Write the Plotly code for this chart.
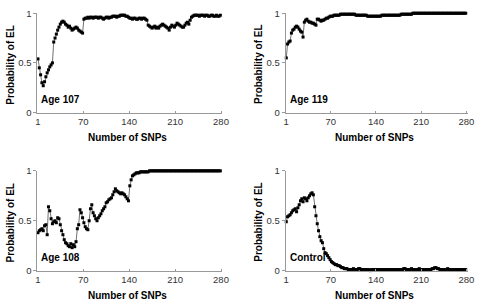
import plotly.graph_objects as go

# SNP index (every second SNP)
snps = list(range(1, 280, 2))

age107 = [0.54, 0.45, 0.38, 0.30, 0.27, 0.31, 0.36, 0.40, 0.43, 0.46,
          0.48, 0.50, 0.71, 0.75, 0.79, 0.83, 0.86, 0.89, 0.91, 0.92,
          0.91, 0.89, 0.88, 0.86, 0.87, 0.85, 0.83, 0.84, 0.85, 0.86,
          0.85, 0.83, 0.82, 0.81, 0.80, 0.94, 0.95, 0.95, 0.96, 0.95,
          0.96, 0.96, 0.95, 0.96, 0.96, 0.96, 0.95, 0.96, 0.96, 0.95,
          0.94, 0.95, 0.96, 0.96, 0.95, 0.96, 0.96, 0.97, 0.97, 0.97,
          0.96, 0.97, 0.97, 0.98, 0.98, 0.98, 0.98, 0.97, 0.97, 0.96,
          0.95, 0.95, 0.94, 0.95, 0.95, 0.94, 0.94, 0.95, 0.95, 0.94,
          0.95, 0.95, 0.94, 0.93, 0.88, 0.87, 0.86, 0.85, 0.86, 0.87,
          0.85, 0.86, 0.85, 0.87, 0.88, 0.89, 0.88, 0.87, 0.86, 0.85,
          0.83, 0.86, 0.88, 0.87, 0.86, 0.88, 0.90, 0.89, 0.88, 0.87,
          0.86, 0.86, 0.88, 0.90, 0.91, 0.89, 0.93, 0.96, 0.97, 0.98,
          0.98, 0.98, 0.98, 0.97, 0.98, 0.98, 0.98, 0.97, 0.98, 0.98,
          0.97, 0.97, 0.98, 0.98, 0.97, 0.97, 0.98, 0.97, 0.97, 0.98]

age119 = [0.55, 0.69, 0.71, 0.72, 0.80, 0.83, 0.84, 0.86, 0.87, 0.86,
          0.84, 0.82, 0.81, 0.76, 0.91, 0.93, 0.94, 0.92, 0.91, 0.91,
          0.90, 0.90, 0.89, 0.88, 0.94, 0.94, 0.93, 0.92, 0.93, 0.93,
          0.94, 0.95, 0.95, 0.96, 0.97, 0.97, 0.97, 0.98, 0.98, 0.98,
          0.98, 0.98, 0.99, 0.99, 0.99, 0.99, 0.99, 0.99, 0.99, 0.99,
          0.99, 0.99, 0.99, 0.99, 0.98, 0.98, 0.98, 0.98, 0.98, 0.98,
          0.98, 0.98, 0.98, 0.97, 0.97, 0.97, 0.97, 0.97, 0.97, 0.97,
          0.97, 0.97, 0.97, 0.97, 0.98, 0.98, 0.98, 0.98, 0.98, 0.98,
          0.98, 0.98, 0.98, 0.98, 0.98, 0.98, 0.98, 0.98, 0.98, 0.99,
          0.99, 0.99, 0.99, 0.99, 0.99, 0.99, 0.99, 0.99, 1.00, 1.00,
          1.00, 1.00, 1.00, 1.00, 1.00, 1.00, 1.00, 1.00, 1.00, 1.00,
          1.00, 1.00, 1.00, 1.00, 1.00, 1.00, 1.00, 1.00, 1.00, 1.00,
          1.00, 1.00, 1.00, 1.00, 1.00, 1.00, 1.00, 1.00, 1.00, 1.00,
          1.00, 1.00, 1.00, 1.00, 1.00, 1.00, 1.00, 1.00, 1.00, 1.00]

age108 = [0.38, 0.40, 0.41, 0.42, 0.40, 0.45, 0.46, 0.36, 0.64, 0.60,
          0.52, 0.47, 0.49, 0.50, 0.48, 0.53, 0.52, 0.46, 0.40, 0.36,
          0.31, 0.28, 0.27, 0.25, 0.24, 0.27, 0.23, 0.26, 0.24, 0.29,
          0.42, 0.46, 0.61, 0.58, 0.53, 0.48, 0.44, 0.42, 0.41, 0.50,
          0.62, 0.66, 0.58, 0.55, 0.52, 0.50, 0.53, 0.55, 0.57, 0.60,
          0.62, 0.64, 0.68, 0.69, 0.71, 0.72, 0.73, 0.76, 0.79, 0.82,
          0.80, 0.79, 0.78, 0.77, 0.78, 0.77, 0.76, 0.74, 0.72, 0.70,
          0.85, 0.91, 0.95, 0.96, 0.97, 0.98, 0.98, 0.98, 0.99, 0.99,
          0.99, 0.99, 0.99, 0.99, 0.99, 1.00, 1.00, 1.00, 1.00, 1.00,
          1.00, 1.00, 1.00, 1.00, 1.00, 1.00, 1.00, 1.00, 1.00, 1.00,
          1.00, 1.00, 1.00, 1.00, 1.00, 1.00, 1.00, 1.00, 1.00, 1.00,
          1.00, 1.00, 1.00, 1.00, 1.00, 1.00, 1.00, 1.00, 1.00, 1.00,
          1.00, 1.00, 1.00, 1.00, 1.00, 1.00, 1.00, 1.00, 1.00, 1.00,
          1.00, 1.00, 1.00, 1.00, 1.00, 1.00, 1.00, 1.00, 1.00, 1.00]

control = [0.49, 0.54, 0.55, 0.56, 0.58, 0.60, 0.61, 0.62, 0.59, 0.63,
           0.66, 0.70, 0.72, 0.69, 0.73, 0.72, 0.70, 0.73, 0.75, 0.77,
           0.78, 0.76, 0.64, 0.55, 0.47, 0.40, 0.34, 0.30, 0.28, 0.22,
           0.18, 0.17, 0.15, 0.13, 0.11, 0.09, 0.08, 0.07, 0.06, 0.06,
           0.05, 0.05, 0.04, 0.03, 0.03, 0.02, 0.02, 0.02, 0.01, 0.01,
           0.01, 0.01, 0.02, 0.01, 0.01, 0.01, 0.02, 0.02, 0.01, 0.01,
           0.01, 0.01, 0.01, 0.01, 0.01, 0.00, 0.01, 0.01, 0.01, 0.01,
           0.01, 0.01, 0.01, 0.01, 0.01, 0.01, 0.01, 0.01, 0.01, 0.01,
           0.01, 0.01, 0.01, 0.01, 0.01, 0.01, 0.01, 0.01, 0.01, 0.01,
           0.01, 0.02, 0.02, 0.01, 0.01, 0.01, 0.01, 0.02, 0.01, 0.01,
           0.01, 0.01, 0.01, 0.02, 0.01, 0.01, 0.01, 0.01, 0.01, 0.01,
           0.01, 0.01, 0.01, 0.02, 0.02, 0.03, 0.03, 0.02, 0.02, 0.01,
           0.01, 0.01, 0.01, 0.01, 0.01, 0.02, 0.01, 0.01, 0.01, 0.01,
           0.01, 0.01, 0.01, 0.01, 0.01, 0.01, 0.01, 0.01, 0.01, 0.01]

panel_labels = ["Age 107", "Age 119", "Age 108", "Control"]
series = [age107, age119, age108, control]
x_ticks = [1, 70, 140, 210, 280]
y_ticks = [0, 0.5, 1]
y_tick_text = ["0", "0.5", "1"]
x_title = "Number of SNPs"
y_title = "Probability of EL"

W, H = 483, 306
FONT = "Liberation Sans, Arial, sans-serif"

# pixel boxes of plot areas: (left, right, top, bottom)
boxes = [(36, 224.5, 7.5, 110.5),
         (289, 474.5, 7.5, 110.5),
         (36, 224.5, 171, 274.5),
         (289, 474.5, 171, 274.5)]

fig = go.Figure()
annotations = []
for i, (vals, lab, box) in enumerate(zip(series, panel_labels, boxes)):
    n = "" if i == 0 else str(i + 1)
    fig.add_trace(go.Scatter(
        x=snps, y=vals, mode="lines+markers",
        xaxis="x" + n, yaxis="y" + n,
        line=dict(color="#333333", width=0.7),
        marker=dict(color="black", size=3, symbol="square"),
        cliponaxis=False, showlegend=False, hoverinfo="skip"))
    l, r, t, b = box
    fig.layout["xaxis" + n] = dict(
        domain=[l / W, r / W], range=[0, 282], anchor="y" + n,
        tickvals=x_ticks, ticks="inside", ticklen=2, tickcolor="#999999",
        showline=True, linecolor="#999999", linewidth=1,
        showgrid=False, zeroline=False,
        tickfont=dict(family=FONT, size=9.5, color="#333333"))
    fig.layout["yaxis" + n] = dict(
        domain=[1 - b / H, 1 - t / H], range=[0, 1], anchor="x" + n,
        tickvals=y_ticks, ticktext=y_tick_text, ticks="outside", ticklen=3,
        tickcolor="#999999", showline=True, linecolor="#999999", linewidth=1,
        showgrid=False, zeroline=False,
        tickfont=dict(family=FONT, size=9.5, color="#333333"))
    annotations.append(dict(
        text=lab, xref="x" + n, yref="y" + n, x=3, y=0.13,
        xanchor="left", yanchor="middle", showarrow=False,
        font=dict(family=FONT, size=10, color="black", weight="bold")))
    annotations.append(dict(
        text=x_title, xref="paper", yref="paper",
        x=((l + r) / 2 - 2) / W, y=1 - (b + 25.5) / H,
        xanchor="center", yanchor="middle", showarrow=False,
        font=dict(family=FONT, size=10, color="black", weight="bold")))
    annotations.append(dict(
        text=y_title, xref="paper", yref="paper", textangle=-90,
        x=(l - 27) / W, y=1 - ((t + b) / 2 + 2) / H,
        xanchor="center", yanchor="middle", showarrow=False,
        font=dict(family=FONT, size=10, color="black", weight="bold")))

fig.update_layout(
    width=W, height=H, margin=dict(l=0, r=0, t=0, b=0),
    paper_bgcolor="white", plot_bgcolor="white",
    annotations=annotations)

fig.write_html("out.html", config={"displayModeBar": False},
               post_script="document.body.style.margin='0';document.body.style.padding='0';")
